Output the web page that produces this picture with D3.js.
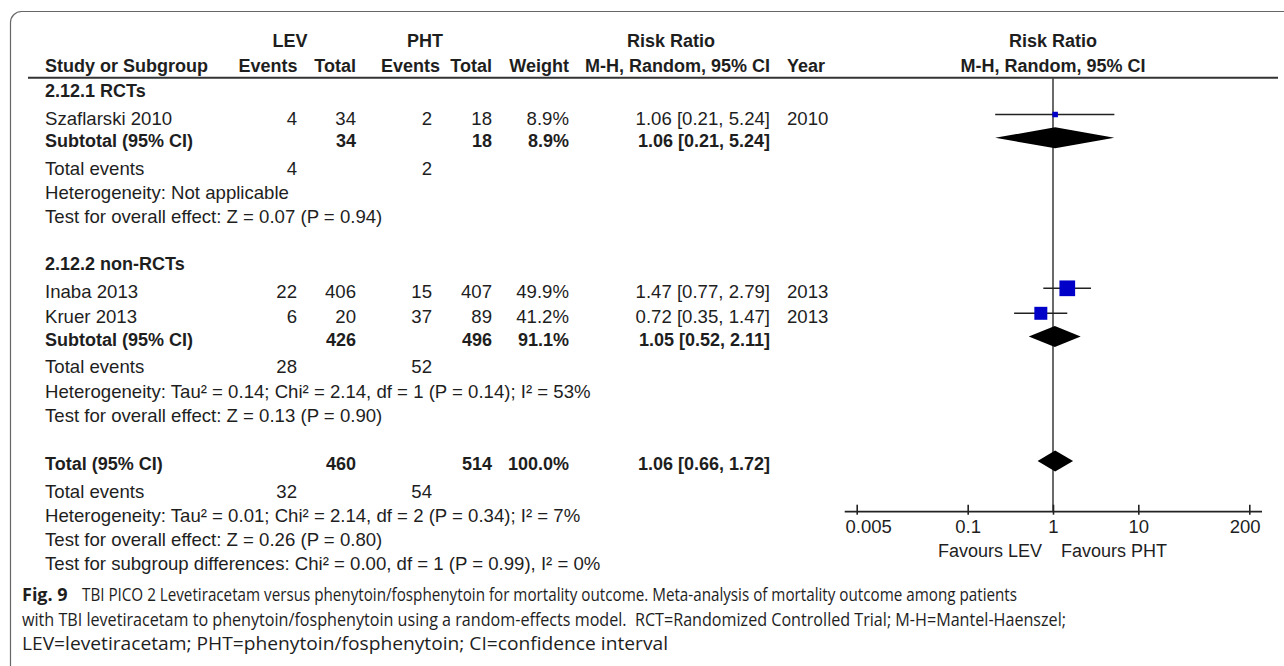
<!DOCTYPE html>
<html>
<head>
<meta charset="utf-8">
<script src="https://cdn.jsdelivr.net/npm/d3@7"></script>
<style>
  body { margin: 0; background: #fff; }
  svg text { font-family: "Liberation Sans", Arial, sans-serif; fill: #1e1e1e; }
  .b { font-weight: bold; }
  .cap { font-family: "Liberation Sans Narrow", "Open Sans", sans-serif; }
</style>
</head>
<body>
<svg id="chart" width="1284" height="666"></svg>
<script>
// studies
const studies = ["Szaflarski 2010", "Inaba 2013", "Kruer 2013"];
const studyGroup = [0, 1, 1];
const levEvents = [4, 22, 6];
const levTotal = [34, 406, 20];
const phtEvents = [2, 15, 37];
const phtTotal = [18, 407, 89];
const weights = [8.9, 49.9, 41.2];
const riskRatio = [1.06, 1.47, 0.72];
const ciLow = [0.21, 0.77, 0.35];
const ciHigh = [5.24, 2.79, 1.47];
const years = [2010, 2013, 2013];

// subgroups
const groups = ["2.12.1 RCTs", "2.12.2 non-RCTs"];
const groupLevEvents = [4, 28];
const groupPhtEvents = [2, 52];
const groupLevTotal = [34, 426];
const groupPhtTotal = [18, 496];
const groupWeight = [8.9, 91.1];
const groupRR = [1.06, 1.05];
const groupLow = [0.21, 0.52];
const groupHigh = [5.24, 2.11];
const groupHet = ["Heterogeneity: Not applicable",
  "Heterogeneity: Tau² = 0.14; Chi² = 2.14, df = 1 (P = 0.14); I² = 53%"];
const groupTest = ["Test for overall effect: Z = 0.07 (P = 0.94)",
  "Test for overall effect: Z = 0.13 (P = 0.90)"];

// overall
const totalLev = [32, 460];   // events, total
const totalPht = [54, 514];
const totalWeight = 100.0;
const totalRR = [1.06, 0.66, 1.72];
const totalNotes = [
  "Heterogeneity: Tau² = 0.01; Chi² = 2.14, df = 2 (P = 0.34); I² = 7%",
  "Test for overall effect: Z = 0.26 (P = 0.80)",
  "Test for subgroup differences: Chi² = 0.00, df = 1 (P = 0.99), I² = 0%"];

const tickValues = [0.005, 0.1, 1, 10, 200];
const tickLabels = ["0.005", "0.1", "1", "10", "200"];

const captionLabel = "Fig. 9";
const captionLines = [
  "TBI PICO 2 Levetiracetam versus phenytoin/fosphenytoin for mortality outcome. Meta-analysis of mortality outcome among patients",
  "with TBI levetiracetam to phenytoin/fosphenytoin using a random-effects model.  RCT=Randomized Controlled Trial; M-H=Mantel-Haenszel;",
  "LEV=levetiracetam; PHT=phenytoin/fosphenytoin; CI=confidence interval"];

const svg = d3.select("#chart");
const fs = 18;      // bold headings
const fsr = 18.6;   // regular table text

// frame
svg.append("rect").attr("x", 10.5).attr("y", 11.5).attr("width", 1320).attr("height", 720)
  .attr("rx", 11).attr("fill", "none").attr("stroke", "#666").attr("stroke-width", 1.2);

const fmt2 = d3.format(".2f");
const ciText = (r, l, h) => `${fmt2(r)} [${fmt2(l)}, ${fmt2(h)}]`;
const pct = w => d3.format(".1f")(w) + "%";

// column x positions
const col = { label: 45, levE: 297, levT: 356, phtE: 432, phtT: 492, w: 569, ci: 770, year: 787 };

// build rows; a cell is [x, text, anchor, bold]
const rows = [];
groups.forEach((g, gi) => {
  rows.push({ kind: "group", cells: [[col.label, g, "start", true]] });
  studies.forEach((s, i) => {
    if (studyGroup[i] !== gi) return;
    rows.push({ kind: "study", i, cells: [
      [col.label, s, "start"], [col.levE, levEvents[i], "end"], [col.levT, levTotal[i], "end"],
      [col.phtE, phtEvents[i], "end"], [col.phtT, phtTotal[i], "end"], [col.w, pct(weights[i]), "end"],
      [col.ci, ciText(riskRatio[i], ciLow[i], ciHigh[i]), "end"], [col.year, years[i], "start"]] });
  });
  rows.push({ kind: "subtotal", gi, cells: [
    [col.label, "Subtotal (95% CI)", "start", true], [col.levT, groupLevTotal[gi], "end", true],
    [col.phtT, groupPhtTotal[gi], "end", true], [col.w, pct(groupWeight[gi]), "end", true],
    [col.ci, ciText(groupRR[gi], groupLow[gi], groupHigh[gi]), "end", true]] });
  rows.push({ kind: "events", cells: [[col.label, "Total events", "start"],
    [col.levE, groupLevEvents[gi], "end"], [col.phtE, groupPhtEvents[gi], "end"]] });
  rows.push({ kind: "note", cells: [[col.label, groupHet[gi], "start"]] });
  rows.push({ kind: "note", cells: [[col.label, groupTest[gi], "start"]] });
});
rows.push({ kind: "total", cells: [
  [col.label, "Total (95% CI)", "start", true], [col.levT, totalLev[1], "end", true],
  [col.phtT, totalPht[1], "end", true], [col.w, pct(totalWeight), "end", true],
  [col.ci, ciText(totalRR[0], totalRR[1], totalRR[2]), "end", true]] });
rows.push({ kind: "events", cells: [[col.label, "Total events", "start"],
  [col.levE, totalLev[0], "end"], [col.phtE, totalPht[0], "end"]] });
totalNotes.forEach(t => rows.push({ kind: "note", cells: [[col.label, t, "start"]] }));

// vertical layout
const headerLine = 77.7;
let y = headerLine;
rows.forEach((r, k) => {
  const prev = k ? rows[k - 1].kind : null;
  let gap = 24;
  if (r.kind === "group") gap = prev ? 47.5 : 12.3;
  else if (r.kind === "study") gap = prev === "group" ? 28 : 25;
  else if (r.kind === "subtotal") gap = 22.3;
  else if (r.kind === "events") gap = 27.7;
  else if (r.kind === "note") gap = prev === "events" ? 24.3 : 24;
  else if (r.kind === "total") gap = 48.3;
  y += gap;
  r.y = y;
});

// headers
const hdr = [
  [290, 40, "LEV", "middle"], [425, 40, "PHT", "middle"], [671, 40, "Risk Ratio", "middle"],
  [45, 65, "Study or Subgroup", "start"], [297.5, 65, "Events", "end"], [356, 65, "Total", "end"],
  [440, 65, "Events", "end"], [492, 65, "Total", "end"], [569, 65, "Weight", "end"],
  [770, 65, "M-H, Random, 95% CI", "end"], [787, 65, "Year", "start"]];
svg.append("g").selectAll("text").data(hdr).join("text").attr("class", "b")
  .attr("x", d => d[0]).attr("y", d => d[1] + 6.5).attr("text-anchor", d => d[3])
  .attr("font-size", fs).text(d => d[2]);

svg.append("line").attr("x1", 28).attr("x2", 1278).attr("y1", headerLine).attr("y2", headerLine)
  .attr("stroke", "#333").attr("stroke-width", 2);

// table text
const rowG = svg.append("g").selectAll("g").data(rows).join("g");
rowG.selectAll("text")
  .data(r => r.cells.map(c => ({ x: c[0], t: c[1], anchor: c[2], bold: !!c[3], y: r.y })))
  .join("text")
  .attr("class", d => d.bold ? "b" : null)
  .attr("x", d => d.x).attr("y", d => d.y + 6.5).attr("text-anchor", d => d.anchor)
  .attr("font-size", d => d.bold ? fs : fsr).text(d => d.t);

// forest plot
const x = d3.scaleLog().domain([0.005, 200]).range([856.7, 1249.3]);
const box = d3.scaleLinear().domain([0, 49.9]).range([0, 15.7]);
const boxSize = w => Math.max(5.5, box(w));
const totalRow = rows.find(r => r.kind === "total");
const axisY = totalRow.y + 48.3;

svg.append("line").attr("x1", x(1)).attr("x2", x(1)).attr("y1", headerLine).attr("y2", axisY)
  .attr("stroke", "#444").attr("stroke-width", 1.6);

svg.append("g").attr("class", "b").selectAll("text")
  .data([["Risk Ratio", 40], ["M-H, Random, 95% CI", 65]]).join("text")
  .attr("x", x(1)).attr("y", d => d[1] + 6.5).attr("text-anchor", "middle")
  .attr("font-size", fs).text(d => d[0]);

const studyRows = rows.filter(r => r.kind === "study");
const sg = svg.append("g");
sg.selectAll("line").data(studyRows).join("line")
  .attr("x1", r => x(ciLow[r.i])).attr("x2", r => x(ciHigh[r.i]))
  .attr("y1", r => r.y - 3.5).attr("y2", r => r.y - 3.5)
  .attr("stroke", "#222").attr("stroke-width", 1.6);
sg.selectAll("rect").data(studyRows).join("rect")
  .attr("width", r => boxSize(weights[r.i]))
  .attr("height", r => boxSize(weights[r.i]))
  .attr("x", r => x(riskRatio[r.i]) - boxSize(weights[r.i]) / 2)
  .attr("y", r => r.y - 3.5 - boxSize(weights[r.i]) / 2)
  .attr("fill", "#0000c8");

const diamonds = rows.filter(r => r.kind === "subtotal").map(r => [groupRR[r.gi], groupLow[r.gi], groupHigh[r.gi], r.y])
  .concat([[totalRR[0], totalRR[1], totalRR[2], totalRow.y]]);
svg.append("g").selectAll("path").data(diamonds).join("path")
  .attr("d", d => {
    const cy = d[3] - 2.5;
    return `M${x(d[1])},${cy}L${x(d[0])},${cy - 10.5}L${x(d[2])},${cy}L${x(d[0])},${cy + 10.5}Z`;
  })
  .attr("fill", "#000");

// axis
const axis = d3.axisBottom(x).tickValues(tickValues).tickFormat((d, i) => tickLabels[i])
  .tickSize(-7).tickPadding(8.5);
const ax = svg.append("g").attr("transform", `translate(0,${axisY})`).call(axis);
ax.select(".domain").remove();
ax.selectAll(".tick line").attr("stroke", "#222").attr("stroke-width", 1.6).attr("y2", -7).attr("y1", 3);
ax.selectAll(".tick text").attr("font-size", 18.5).attr("font-family", null).attr("fill", "#1e1e1e");
const last = tickValues.length - 1;
ax.selectAll(".tick text")
  .attr("text-anchor", (d, i) => i === 0 ? "start" : i === last ? "end" : "middle")
  .attr("x", (d, i) => i === 0 ? -11.7 : i === last ? 10.7 : 0);
ax.append("line").attr("x1", x(0.005) - 12).attr("x2", x(200) + 12.7)
  .attr("stroke", "#222").attr("stroke-width", 1.8);

svg.append("text").attr("x", x(1) - 11).attr("y", axisY + 45).attr("text-anchor", "end")
  .attr("font-size", fs).attr("fill", "#2a2a3a").text("Favours LEV");
svg.append("text").attr("x", x(1) + 8).attr("y", axisY + 45).attr("text-anchor", "start")
  .attr("font-size", fs).attr("fill", "#2a2a3a").text("Favours PHT");

// caption: bold label, then three lines fitted to the widths seen in the figure
const capStart = [82, 22, 22];
const capEnd = [1017, 1066, 668];
svg.append("text").attr("class", "cap").attr("x", 22).attr("y", 601)
  .attr("font-size", 18).attr("font-weight", "bold").text(captionLabel);
svg.append("g").selectAll("text").data(captionLines).join("text").attr("class", "cap")
  .attr("x", (d, i) => capStart[i]).attr("y", (d, i) => 601 + i * 24.5).attr("font-size", 18)
  .attr("textLength", (d, i) => capEnd[i] - capStart[i]).attr("lengthAdjust", "spacingAndGlyphs")
  .style("white-space", "pre").text(d => d);
</script>
</body>
</html>
